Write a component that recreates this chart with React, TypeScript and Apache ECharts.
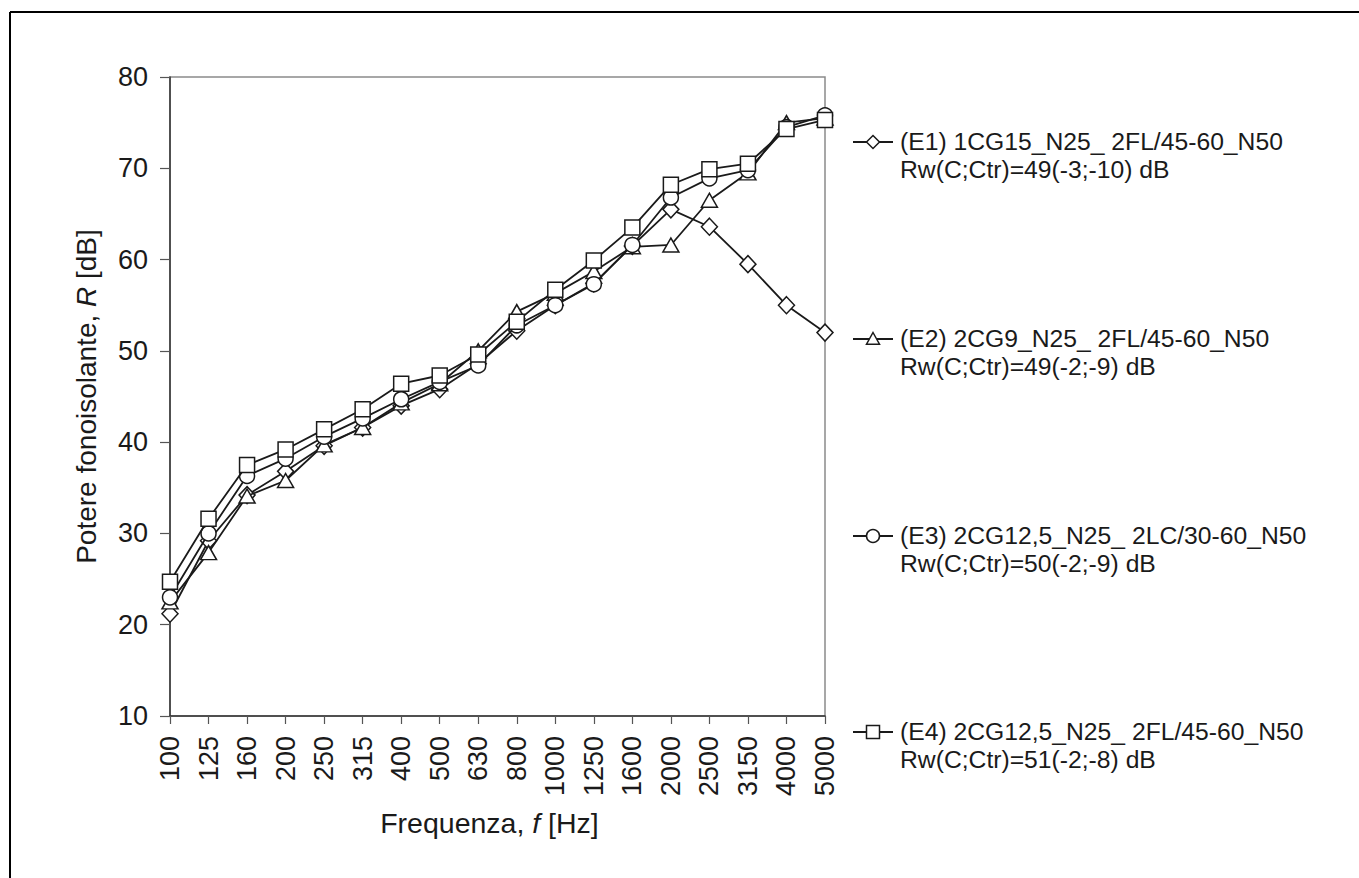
import React, { useEffect, useRef } from "react";
import * as echarts from "echarts";

const frequencies = ["100", "125", "160", "200", "250", "315", "400", "500", "630", "800", "1000", "1250", "1600", "2000", "2500", "3150", "4000", "5000"];

const E1 = [21.2, 29.2, 34.2, 36.8, 39.6, 41.6, 44.0, 45.8, 48.6, 52.2, 55.0, 57.4, 61.5, 65.5, 63.6, 59.5, 55.0, 52.0];
const E2 = [22.5, 27.9, 34.1, 35.8, 39.7, 41.6, 44.3, 46.4, 50.0, 54.3, 56.3, 58.7, 61.4, 61.6, 66.5, 69.5, 75.0, 75.5];
const E3 = [23.0, 30.0, 36.3, 38.2, 40.6, 42.6, 44.7, 46.6, 48.4, 52.8, 55.0, 57.3, 61.6, 66.8, 68.9, 69.8, 74.5, 75.8];
const E4 = [24.7, 31.6, 37.5, 39.2, 41.4, 43.6, 46.4, 47.3, 49.6, 53.2, 56.7, 59.9, 63.5, 68.2, 69.9, 70.5, 74.3, 75.3];

const seriesNames = [
  "(E1) 1CG15_N25_ 2FL/45-60_N50",
  "(E2) 2CG9_N25_ 2FL/45-60_N50",
  "(E3) 2CG12,5_N25_ 2LC/30-60_N50",
  "(E4) 2CG12,5_N25_ 2FL/45-60_N50",
];
const ratings = [
  "Rw(C;Ctr)=49(-3;-10) dB",
  "Rw(C;Ctr)=49(-2;-9) dB",
  "Rw(C;Ctr)=50(-2;-9) dB",
  "Rw(C;Ctr)=51(-2;-8) dB",
];
const seriesData = [E1, E2, E3, E4];
const symbols = ["diamond", "triangle", "circle", "rect"];
const symbolSizes: any[] = [[16, 17], [16, 14], 15, 15];

const FONT = "'Liberation Sans', Arial, Helvetica, sans-serif";
const INK = "#1a1a1a";

function legendMarker(kind: string, cx: number, cy: number) {
  const s = { fill: "#fff", stroke: INK, lineWidth: 1.5 };
  const r = 6.5;
  if (kind === "diamond")
    return { type: "polygon", shape: { points: [[cx, cy - r], [cx + r, cy], [cx, cy + r], [cx - r, cy]] }, style: s };
  if (kind === "triangle")
    return { type: "polygon", shape: { points: [[cx, cy - r], [cx + r, cy + r * 0.8], [cx - r, cy + r * 0.8]] }, style: s };
  if (kind === "circle") return { type: "circle", shape: { cx, cy, r }, style: s };
  return { type: "rect", shape: { x: cx - r, y: cy - r, width: 2 * r, height: 2 * r }, style: s };
}

export default function App() {
  const ref = useRef<HTMLDivElement>(null);
  useEffect(() => {
    if (!ref.current) return;
    const chart = echarts.init(ref.current, null, { renderer: "svg" });
    const legendY = [142, 339, 536, 732];
    const legendGraphics: any[] = [];
    seriesNames.forEach((name, i) => {
      const y = legendY[i];
      legendGraphics.push({
        type: "line",
        shape: { x1: 853, y1: y, x2: 893, y2: y },
        style: { stroke: INK, lineWidth: 1.8 },
      });
      legendGraphics.push(legendMarker(symbols[i], 873, y));
      legendGraphics.push({
        type: "text",
        x: 900,
        y: y - 14,
        style: {
          text: name + "\n" + ratings[i],
          font: `24.7px ${FONT}`,
          fill: INK,
          lineHeight: 27.5,
          textVerticalAlign: "top",
        },
      });
    });
    chart.setOption({
      animation: false,
      backgroundColor: "#fff",
      grid: {
        left: 170,
        right: 1359 - 825,
        top: 77,
        bottom: 878 - 716,
        show: true,
        borderColor: "#8a8a8a",
        borderWidth: 1.5,
        backgroundColor: "transparent",
      },
      xAxis: {
        type: "category",
        data: frequencies,
        boundaryGap: false,
        name: "{a|Frequenza, }{i|f}{a| [Hz]}",
        nameLocation: "middle",
        nameGap: 92,
        nameTextStyle: {
          padding: [0, 16, 0, 0],
          rich: {
            a: { fontSize: 28.5, fontFamily: FONT, color: INK },
            i: { fontSize: 28.5, fontFamily: FONT, color: INK, fontStyle: "italic" },
          },
        },
        axisLine: { lineStyle: { color: "#333", width: 1.5 } },
        axisTick: { show: true, length: 8, inside: false, alignWithLabel: true, lineStyle: { color: "#555", width: 1.2 } },
        axisLabel: { rotate: 90, interval: 0, margin: 20, fontSize: 27, fontFamily: FONT, color: INK },
        splitLine: { show: false },
      },
      yAxis: {
        type: "value",
        min: 10,
        max: 80,
        interval: 10,
        name: "{a|Potere fonoisolante, }{i|R}{a| [dB]}",
        nameLocation: "middle",
        nameGap: 70,
        nameTextStyle: {
          rich: {
            a: { fontSize: 28, fontFamily: FONT, color: INK },
            i: { fontSize: 28, fontFamily: FONT, color: INK, fontStyle: "italic" },
          },
        },
        axisLine: { show: true, lineStyle: { color: "#333", width: 1.5 } },
        axisTick: { show: true, length: 10, inside: false, lineStyle: { color: "#555", width: 1.2 } },
        axisLabel: { margin: 22, fontSize: 27, fontFamily: FONT, color: INK },
        splitLine: { show: false },
      },
      graphic: [
        {
          type: "line",
          shape: { x1: 10, y1: 12, x2: 1400, y2: 12 },
          style: { stroke: "#000", lineWidth: 2 },
        },
        {
          type: "line",
          shape: { x1: 10, y1: 12, x2: 10, y2: 900 },
          style: { stroke: "#000", lineWidth: 2 },
        },
        ...legendGraphics,
      ],
      series: seriesData.map((d, i) => ({
        name: seriesNames[i],
        type: "line",
        data: d,
        symbol: symbols[i],
        symbolSize: symbolSizes[i],
        showSymbol: true,
        z: 2 + i,
        lineStyle: { color: INK, width: 1.8 },
        itemStyle: { color: "#fff", borderColor: INK, borderWidth: 1.5 },
      })),
    });
    return () => chart.dispose();
  }, []);
  return (
    <div
      ref={ref}
      style={{ position: "fixed", left: 0, top: 0, width: 1359, height: 878, background: "#fff" }}
    />
  );
}
